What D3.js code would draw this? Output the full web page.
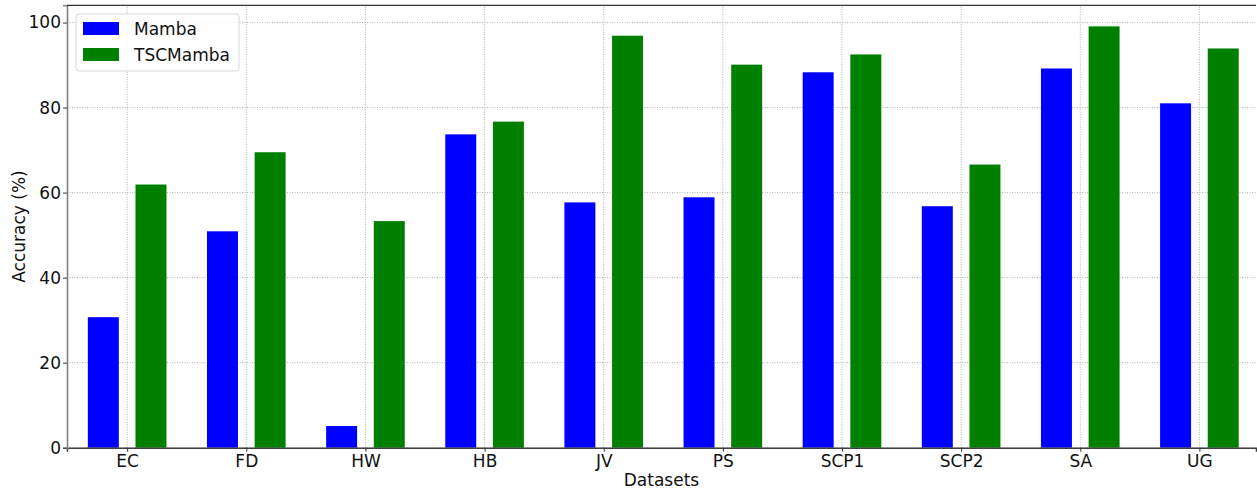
<!DOCTYPE html>
<html>
<head>
<meta charset="utf-8">
<script src="https://cdn.jsdelivr.net/npm/d3@7"></script>
<style>
  body { margin: 0; background: #fff; }
  svg { display: block; font-family: "DejaVu Sans", sans-serif; }
</style>
</head>
<body>
<div id="chart"></div>
<script>
// data
var datasets = ['EC', 'FD', 'HW', 'HB', 'JV', 'PS', 'SCP1', 'SCP2', 'SA', 'UG']
var mambaAcc = [30.7, 50.9, 5.1, 73.7, 57.7, 58.9, 88.3, 56.8, 89.2, 81.0]
var tscMambaAcc = [61.9, 69.5, 53.3, 76.7, 96.9, 90.1, 92.5, 66.6, 99.1, 93.9]
var seriesNames = ['Mamba', 'TSCMamba']
var seriesColors = ['#0000ff', '#008000']
var yTicks = [0, 20, 40, 60, 80, 100]

var width = 1257, height = 490
var margin = {left: 67, right: 1, top: 5.3, bottom: 42.3}

var svg = d3.select('#chart').append('svg')
  .attr('width', width)
  .attr('height', height)

var x = d3.scaleLinear()
  .domain([-0.505, datasets.length - 0.525])
  .range([margin.left, width - margin.right])

var y = d3.scaleLinear()
  .domain([0, d3.max(tscMambaAcc) * 1.05])
  .range([height - margin.bottom, margin.top])

var barW = 0.26, offset = 0.2

// grid
var grid = svg.append('g').attr('class', 'grid')
grid.selectAll('line.gy')
  .data(yTicks)
  .enter().append('line')
    .attr('x1', x.range()[0]).attr('x2', x.range()[1])
    .attr('y1', d => y(d)).attr('y2', d => y(d))
    .attr('stroke', '#b0b0b0').attr('stroke-width', 1)
    .attr('stroke-dasharray', '1,1.5')
grid.selectAll('line.gx')
  .data(datasets)
  .enter().append('line')
    .attr('x1', (d, i) => x(i)).attr('x2', (d, i) => x(i))
    .attr('y1', y.range()[0]).attr('y2', y.range()[1])
    .attr('stroke', '#b0b0b0').attr('stroke-width', 1)
    .attr('stroke-dasharray', '1,1.5')

// bars
var series = [mambaAcc, tscMambaAcc]
series.forEach(function (vals, s) {
  var sign = s === 0 ? -1 : 1
  svg.append('g')
    .selectAll('rect')
    .data(vals)
    .enter().append('rect')
      .attr('x', (d, i) => x(i + sign * offset - barW / 2))
      .attr('width', (d, i) => x(i + barW) - x(i))
      .attr('y', d => y(d))
      .attr('height', d => y(0) - y(d))
      .attr('fill', seriesColors[s])
})

// axes
var xAxis = svg.append('g')
  .attr('transform', 'translate(0,' + y(0) + ')')
  .call(d3.axisBottom(x).tickValues(d3.range(datasets.length)).tickFormat(i => datasets[i]).tickSize(4).tickPadding(3))
xAxis.select('.domain').attr('stroke', '#404040').attr('stroke-width', 1.6)
xAxis.selectAll('.tick line').attr('stroke', '#333')
xAxis.selectAll('text').attr('font-size', 17).attr('fill', '#111').attr('font-family', 'DejaVu Sans')

var yAxis = svg.append('g')
  .attr('transform', 'translate(' + x.range()[0] + ',0)')
  .call(d3.axisLeft(y).tickValues(yTicks).tickSize(4).tickPadding(2))
yAxis.select('.domain').attr('stroke', '#808080').attr('stroke-width', 1.6)
yAxis.selectAll('.tick line').attr('stroke', '#333')
yAxis.selectAll('text').attr('font-size', 17).attr('fill', '#111').attr('font-family', 'DejaVu Sans')

// top spine
svg.append('line')
  .attr('x1', x.range()[0]).attr('x2', x.range()[1])
  .attr('y1', y.range()[1]).attr('y2', y.range()[1])
  .attr('stroke', '#333').attr('stroke-width', 1.2)

// axis labels
svg.append('text')
  .attr('x', (x.range()[0] + x.range()[1]) / 2)
  .attr('y', 486)
  .attr('text-anchor', 'middle')
  .attr('font-size', 17)
  .attr('fill', '#111')
  .text('Datasets')

svg.append('text')
  .attr('transform', 'translate(25,' + (y.range()[0] + y.range()[1]) / 2 + ') rotate(-90)')
  .attr('text-anchor', 'middle')
  .attr('font-size', 17)
  .attr('fill', '#111')
  .text('Accuracy (%)')

// legend
var legend = svg.append('g').attr('transform', 'translate(76,14)')
legend.append('rect')
  .attr('width', 163).attr('height', 57)
  .attr('rx', 3)
  .attr('fill', 'white').attr('fill-opacity', 0.85)
  .attr('stroke', '#d6d6d6')

seriesNames.forEach(function (name, i) {
  legend.append('rect')
    .attr('x', 7).attr('y', 8 + i * 26)
    .attr('width', 36).attr('height', 13)
    .attr('fill', seriesColors[i])
  legend.append('text')
    .attr('x', 58).attr('y', 20.5 + i * 26)
    .attr('font-size', 17)
    .attr('fill', '#111')
    .text(name)
})
</script>
</body>
</html>
